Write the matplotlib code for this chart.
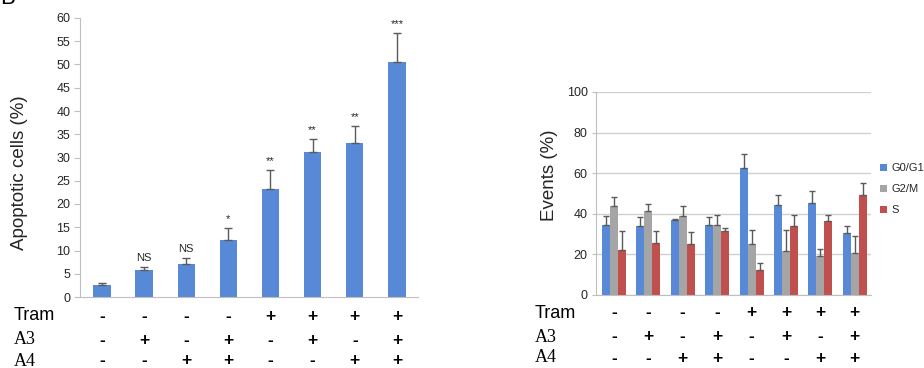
import matplotlib
matplotlib.use("Agg")
import matplotlib.pyplot as plt
from matplotlib.transforms import blended_transform_factory
import numpy as np

plt.rcParams['font.family'] = ['Liberation Sans', 'DejaVu Sans']

# ---- data ----
tram = ['-', '-', '-', '-', '+', '+', '+', '+']
a3 = ['-', '+', '-', '+', '-', '+', '-', '+']
a4 = ['-', '-', '+', '+', '-', '-', '+', '+']

apoptotic = [2.5, 5.7, 7.2, 12.2, 23.2, 31.1, 33.1, 50.6]
apoptotic_err = [0.5, 0.8, 1.1, 2.6, 4.1, 2.8, 3.6, 6.1]
signif = ['', 'NS', 'NS', '*', '**', '**', '**', '***']
left_yticks = [0, 5, 10, 15, 20, 25, 30, 35, 40, 45, 50, 55, 60]

phases = ['G0/G1', 'G2/M', 'S']
g0g1 = [34.3, 33.8, 36.7, 34.3, 62.6, 44.3, 45.1, 30.3]
g0g1_err = [4.7, 4.7, 0.8, 3.9, 6.9, 4.7, 6.2, 3.6]
g2m = [43.6, 41.1, 38.7, 34.3, 24.9, 21.6, 19.0, 20.7]
g2m_err = [4.8, 3.8, 5.2, 5.2, 7.2, 10.2, 3.6, 8.3]
s_phase = [22.1, 25.4, 24.8, 31.3, 12.3, 33.9, 36.2, 49.0]
s_err = [9.2, 6.1, 5.9, 1.7, 3.1, 5.6, 3.3, 6.2]
right_yticks = [0, 20, 40, 60, 80, 100]

blue = '#5889d6'
gray = '#a5a5a5'
red = '#c0504d'
errc = '#5a5a5a'
txt = '#262626'

W, H = 924, 368
fig = plt.figure(figsize=(W / 100, H / 100), dpi=100)

def fx(px):
    return px / W

def fy(py):
    return 1 - py / H

# ---- left panel ----
axL = fig.add_axes([fx(80), fy(297), fx(418) - fx(80), fy(18) - fy(297)])
x = np.arange(len(apoptotic))
axL.bar(x, apoptotic, width=0.41, color=blue, zorder=2)
axL.errorbar(x, apoptotic, yerr=[np.zeros(len(x)), apoptotic_err], fmt='none',
             ecolor=errc, elinewidth=1.0, capsize=3, capthick=1.0, zorder=3)
for xi, v, e, s in zip(x, apoptotic, apoptotic_err, signif):
    if s:
        axL.annotate(s, (xi, v + e), xytext=(0, 3), textcoords='offset points',
                     ha='center', va='bottom', fontsize=8, color=txt)
axL.set_xlim(-0.52, 7.5)
axL.set_ylim(0, 60)
axL.set_yticks(left_yticks)
axL.set_xticks([])
for sp in ['top', 'right']:
    axL.spines[sp].set_visible(False)
for sp in ['left', 'bottom']:
    axL.spines[sp].set_color('#bfbfbf')
axL.tick_params(axis='y', length=4, color='#bfbfbf', labelsize=9, labelcolor=txt, pad=3)
fig.text(fx(20), fy(173), 'Apoptotic cells (%)', rotation=90, ha='center', va='center',
         fontsize=13.5, color=txt)

# rows under the left panel
trL = blended_transform_factory(axL.transData, fig.transFigure)
rowsL = [('Tram', tram, 316, 'Liberation Sans'), ('A3', a3, 340, 'Liberation Serif'),
         ('A4', a4, 361, 'Liberation Serif')]
for name, signs, ypx, fam in rowsL:
    fig.text(fx(14), fy(ypx), name, ha='left', va='center', fontsize=13,
             family=fam, color='black')
    for xi, sgn in zip(x, signs):
        axL.text(xi, fy(ypx), sgn, transform=trL, ha='center', va='center',
                 fontsize=12.5, fontweight='bold', color='black')

# ---- right panel ----
axR = fig.add_axes([fx(596), fy(294.6), fx(871) - fx(596), fy(92) - fy(294.6)])
bw = 0.233
xr = np.arange(len(g0g1))
series = [(g0g1, g0g1_err, blue), (g2m, g2m_err, gray), (s_phase, s_err, red)]
for k, (vals, errs, col) in enumerate(series):
    pos = xr + (k - 1) * bw
    axR.bar(pos, vals, width=bw, color=col, label=phases[k], zorder=2)
    axR.errorbar(pos, vals, yerr=[np.zeros(len(pos)), errs], fmt='none',
                 ecolor=errc, elinewidth=1.0, capsize=2.2, capthick=1.0, zorder=3)
axR.set_xlim(-0.52, 7.47)
axR.set_ylim(0, 100)
axR.set_yticks(right_yticks)
axR.set_xticks([])
axR.yaxis.grid(True, color='#d0d0d0', linewidth=1.0, zorder=0)
axR.set_axisbelow(True)
for sp in ['top', 'right']:
    axR.spines[sp].set_visible(False)
for sp in ['left', 'bottom']:
    axR.spines[sp].set_color('#bfbfbf')
axR.tick_params(axis='y', length=3, color='#bfbfbf', labelsize=9, labelcolor=txt, pad=3)
fig.text(fx(549), fy(175), 'Events (%)', rotation=90, ha='center', va='center',
         fontsize=13.5, color=txt)

leg = axR.legend(loc='upper left', bbox_to_anchor=(fx(880), fy(163)),
                 bbox_transform=fig.transFigure, frameon=False, fontsize=8,
                 handlelength=0.6, handleheight=0.6, handletextpad=0.4,
                 labelspacing=1.0, borderaxespad=0, borderpad=0)
for t in leg.get_texts():
    t.set_color(txt)

trR = blended_transform_factory(axR.transData, fig.transFigure)
rowsR = [('Tram', tram, 313, 'Liberation Sans'), ('A3', a3, 337, 'Liberation Serif'),
         ('A4', a4, 358, 'Liberation Serif')]
for name, signs, ypx, fam in rowsR:
    fig.text(fx(535), fy(ypx), name, ha='left', va='center', fontsize=13,
             family=fam, color='black')
    for xi, sgn in zip(xr, signs):
        axR.text(xi, fy(ypx), sgn, transform=trR, ha='center', va='center',
                 fontsize=12.5, fontweight='bold', color='black')

fig.text(0.0, fy(9), 'B', ha='left', va='bottom', fontsize=16, color='black')

fig.savefig('out.png', dpi=100)
